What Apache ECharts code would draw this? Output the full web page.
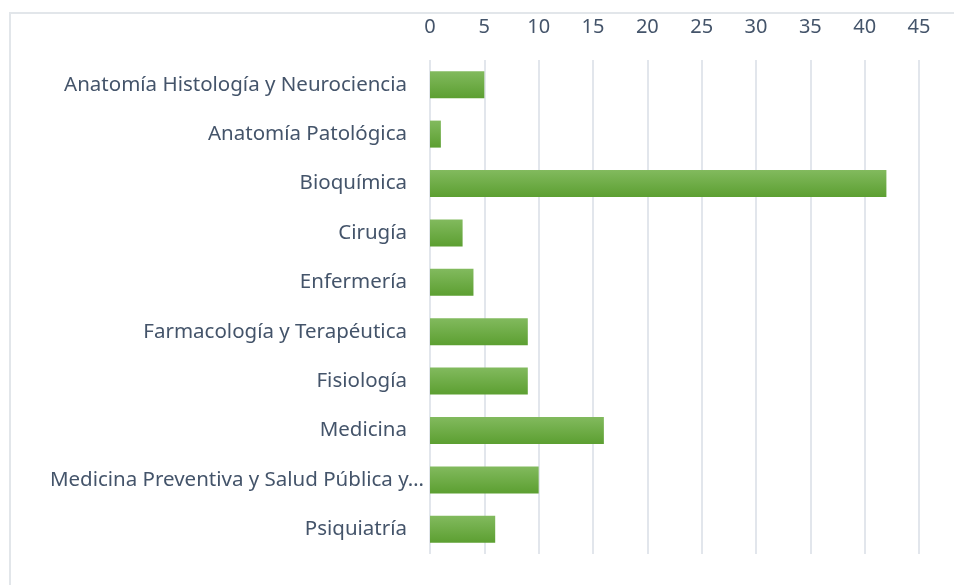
<!DOCTYPE html>
<html>
<head>
<meta charset="utf-8">
<script src="https://cdn.jsdelivr.net/npm/echarts@6/dist/echarts.min.js"></script>
<style>
  html, body { margin: 0; padding: 0; background: #fff; }
  #frame { position: absolute; left: 9px; top: 12px; width: 960px; height: 600px;
    border-left: 2px solid #e2e6ea; border-top: 2px solid #e2e6ea; }
  #chart { position: absolute; left: 0; top: 0; width: 954px; height: 585px; }
</style>
</head>
<body>
<div id="frame"></div>
<div id="chart"></div>
<script>
// categorias de arriba abajo
const categories = [
  'Anatomía Histología y Neurociencia',
  'Anatomía Patológica',
  'Bioquímica',
  'Cirugía',
  'Enfermería',
  'Farmacología y Terapéutica',
  'Fisiología',
  'Medicina',
  'Medicina Preventiva y Salud Pública y…',
  'Psiquiatría'
]
const values = [5, 1, 42, 3, 4, 9, 9, 16, 10, 6]
const tickMax = 45
const tickStep = 5

const chart = echarts.init(document.getElementById('chart'))
chart.setOption({
  animation: false,
  grid: {
    top: 60,
    bottom: 31,
    left: 430,
    right: 35
  },
  xAxis: {
    type: 'value',
    position: 'top',
    min: 0,
    max: tickMax,
    interval: tickStep,
    axisLine: { show: false },
    axisTick: { show: false },
    axisLabel: {
      color: '#44546a',
      fontSize: 20,
      fontFamily: 'Noto Sans',
      margin: 23
    },
    splitLine: {
      lineStyle: { color: '#e2e6ec', width: 2 }
    }
  },
  yAxis: {
    type: 'category',
    inverse: true,
    data: categories,
    axisLine: { show: false },
    axisTick: { show: false },
    axisLabel: {
      margin: 6,
      formatter: function(v) {
        return v.endsWith('…') ? '{b|' + v + '}' : '{a|' + v + '}'
      },
      rich: {
        a: { color: '#44546a', fontSize: 20.5, fontFamily: 'Noto Sans', padding: [0, 17, 0, 0] },
        b: { color: '#44546a', fontSize: 20.5, fontFamily: 'Noto Sans' }
      }
    }
  },
  series: [
    {
      type: 'bar',
      data: values,
      barWidth: 27,
      itemStyle: {
        color: new echarts.graphic.LinearGradient(0, 0, 0, 1, [
          { offset: 0, color: '#82ba5e' },
          { offset: 1, color: '#5c9f31' }
        ])
      }
    }
  ]
})
</script>
</body>
</html>
